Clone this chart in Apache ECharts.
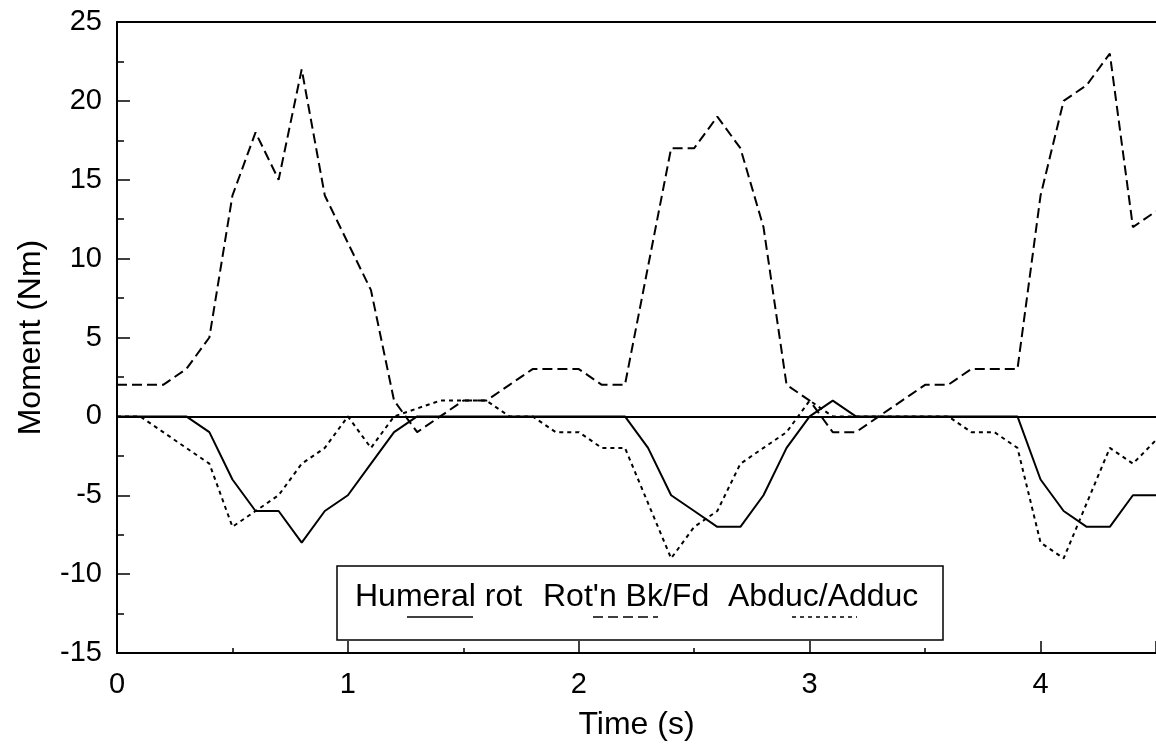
<!DOCTYPE html>
<html>
<head>
<meta charset="utf-8">
<script src="https://cdn.jsdelivr.net/npm/echarts@6/dist/echarts.min.js"></script>
<style>
  html, body { margin: 0; padding: 0; background: #fff; }
  #chart { width: 1156px; height: 746px; }
</style>
</head>
<body>
<div id="chart"></div>
<script>
// Shoulder joint moments over one recording, sampled every 0.1 s
const time = [0, 0.1, 0.2, 0.3, 0.4, 0.5, 0.6, 0.7, 0.8, 0.9,
  1.0, 1.1, 1.2, 1.3, 1.4, 1.5, 1.6, 1.7, 1.8, 1.9,
  2.0, 2.1, 2.2, 2.3, 2.4, 2.5, 2.6, 2.7, 2.8, 2.9,
  3.0, 3.1, 3.2, 3.3, 3.4, 3.5, 3.6, 3.7, 3.8, 3.9,
  4.0, 4.1, 4.2, 4.3, 4.4, 4.5];

const humeralRot = [0, 0, 0, 0, -1, -4, -6, -6, -8, -6,
  -5, -3, -1, 0, 0, 0, 0, 0, 0, 0,
  0, 0, 0, -2, -5, -6, -7, -7, -5, -2,
  0, 1, 0, 0, 0, 0, 0, 0, 0, 0,
  -4, -6, -7, -7, -5, -5];

const rotBkFd = [2, 2, 2, 3, 5, 14, 18, 15, 22, 14,
  11, 8, 1, -1, 0, 1, 1, 2, 3, 3,
  3, 2, 2, 9.5, 17, 17, 19, 17, 12, 2,
  1, -1, -1, 0, 1, 2, 2, 3, 3, 3,
  14, 20, 21, 23, 12, 13];

const abducAdduc = [0, 0, -1, -2, -3, -7, -6, -5, -3, -2,
  0, -2, 0, 0.5, 1, 1, 1, 0, 0, -1,
  -1, -2, -2, -5.5, -9, -7, -6, -3, -2, -1,
  1, 0, 0, 0, 0, 0, 0, -1, -1, -2,
  -8, -9, -5.5, -2, -3, -1.5];

const seriesNames = ['Humeral rot', "Rot'n Bk/Fd", 'Abduc/Adduc'];
const xTickLabels = [0, 1, 2, 3, 4];
const yTickLabels = [-15, -10, -5, 0, 5, 10, 15, 20, 25];

const FONT = "'Liberation Sans', Arial, Helvetica, sans-serif";
const dashStyles = ['solid', [10, 5], [4, 4]];

const pairs = (ys) => time.map((t, i) => [t, ys[i]]);
const seriesValues = [humeralRot, rotBkFd, abducAdduc];

const chart = echarts.init(document.getElementById('chart'), null, { renderer: 'canvas' });

const series = seriesValues.map((ys, k) => ({
  name: seriesNames[k],
  type: 'line',
  data: pairs(ys),
  showSymbol: false,
  symbol: 'none',
  animation: false,
  lineStyle: { color: '#000', width: 2, type: dashStyles[k] },
  z: 3
}));

// zero reference line
series[0].markLine = {
  silent: true,
  symbol: ['none', 'none'],
  label: { show: false },
  lineStyle: { color: '#000', width: 2, type: 'solid' },
  data: [{ yAxis: 0 }],
  animation: false
};

// legend box with label text and line samples underneath
const legendBox = { x: 337, y: 566, w: 606, h: 74 };
const legendTextX = [355, 543, 728];
const sampleX = [[407, 473], [593, 658], [792, 857]];
const graphic = [
  {
    type: 'rect', z: 10,
    shape: { x: legendBox.x, y: legendBox.y, width: legendBox.w, height: legendBox.h },
    style: { fill: '#fff', stroke: '#000', lineWidth: 1.5 }
  }
];
seriesNames.forEach((name, k) => {
  graphic.push({
    type: 'text', z: 11,
    x: legendTextX[k], y: 597,
    style: { text: name, font: '32px ' + FONT, fill: '#000', verticalAlign: 'middle' }
  });
  graphic.push({
    type: 'line', z: 11,
    shape: { x1: sampleX[k][0], y1: 617, x2: sampleX[k][1], y2: 617 },
    style: { stroke: '#000', lineWidth: 1.5, lineDash: dashStyles[k] === 'solid' ? null : dashStyles[k] }
  });
});

const option = {
  backgroundColor: '#fff',
  animation: false,
  grid: { left: 117, top: 22, width: 1040, height: 631, containLabel: false },
  xAxis: [
    {
      type: 'value', min: 0, max: 4.5, interval: 0.5,
      name: 'Time (s)', nameLocation: 'middle', nameGap: 56,
      nameTextStyle: { fontSize: 32, color: '#000', fontFamily: FONT },
      axisLine: { show: true, onZero: false, lineStyle: { color: '#000', width: 2 } },
      axisTick: { show: true, inside: true, length: 5, lineStyle: { color: '#000', width: 1.5 } },
      axisLabel: {
        show: true, margin: 17, fontSize: 29, color: '#000', fontFamily: FONT,
        customValues: xTickLabels,
        formatter: (v) => String(v)
      },
      splitLine: { show: false }
    },
    {
      // longer ticks at whole seconds
      type: 'value', min: 0, max: 4.5, interval: 1, position: 'bottom',
      axisLine: { show: false, onZero: false },
      axisTick: { show: true, inside: true, length: 12, lineStyle: { color: '#000', width: 1.5 } },
      axisLabel: { show: false },
      splitLine: { show: false }
    },
    {
      // upper frame line
      type: 'value', min: 0, max: 4.5, position: 'top',
      axisLine: { show: true, onZero: false, lineStyle: { color: '#000', width: 2 } },
      axisTick: { show: false },
      axisLabel: { show: false },
      splitLine: { show: false }
    }
  ],
  yAxis: {
    type: 'value', min: -15, max: 25, interval: 5,
    name: 'Moment (Nm)', nameLocation: 'middle', nameGap: 70, nameRotate: 90,
    nameTextStyle: { fontSize: 32, color: '#000', fontFamily: FONT },
    axisLine: { show: true, onZero: false, lineStyle: { color: '#000', width: 2 } },
    axisTick: { show: true, inside: true, length: 13, lineStyle: { color: '#000', width: 1.5 } },
    minorTick: { show: true, splitNumber: 2, length: 7, lineStyle: { color: '#000', width: 1.5 } },
    axisLabel: {
      margin: 15, fontSize: 29, color: '#000', fontFamily: FONT,
      customValues: yTickLabels
    },
    splitLine: { show: false },
    minorSplitLine: { show: false }
  },
  series: series,
  graphic: graphic
};

chart.setOption(option);
</script>
</body>
</html>
